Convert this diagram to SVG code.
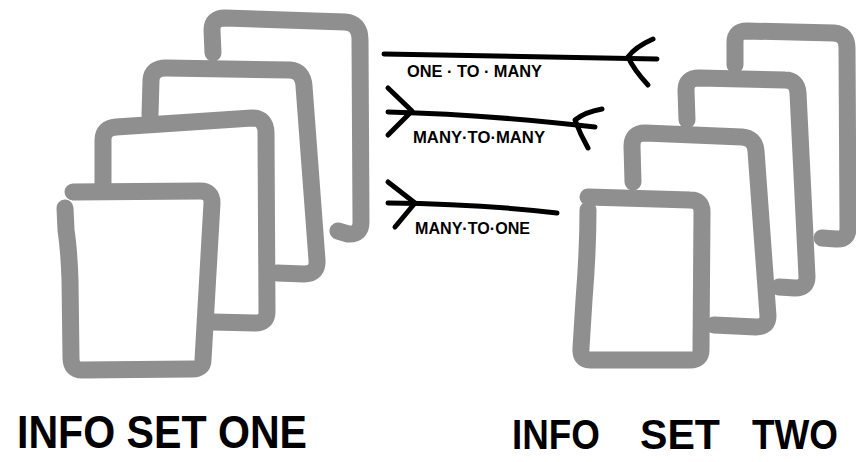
<svg xmlns="http://www.w3.org/2000/svg" width="856" height="462" viewBox="0 0 856 462">
<style>
.sheet{fill:none;stroke:#8f8f8f;stroke-width:17;stroke-linecap:round;stroke-linejoin:round}
.conn{fill:none;stroke:#000;stroke-width:5;stroke-linecap:round;stroke-linejoin:round}
.small{font-family:"Liberation Sans",Arial,sans-serif;font-weight:700;font-size:16px;fill:#000}
.big{font-family:"Liberation Sans",Arial,sans-serif;font-weight:700;font-size:46px;fill:#000}
.big2{font-family:"Liberation Sans",Arial,sans-serif;font-weight:700;font-size:43px;fill:#000}
</style>
<rect width="856" height="462" fill="#fff"/>
<g id="info-set-one">
  <path class="sheet" d="M213,53 L212,30 Q212,18 225,18 L345,22 Q360,23 360,40 L361,222 Q361,235 348,234 L338,231"/>
  <path class="sheet" d="M150,115 L151,80 Q152,68 166,68 L290,70 Q303,71 304,86 L317,260 Q318,274 304,274 L277,273"/>
  <path class="sheet" d="M103,185 L103,140 Q103,128 116,127 L252,118 Q266,118 266,133 L267,312 Q267,323 255,323 L212,322"/>
  <path class="sheet" d="M73,192 L200,191 Q212,191 212,203 L203,360 Q203,369 192,369 L82,370 Q71,370 71,358 L70,280 Q69,250 66,230 L65,208"/>
  <text class="big" x="17" y="448" textLength="290" lengthAdjust="spacingAndGlyphs">INFO SET ONE</text>
</g>
<g id="info-set-two">
  <path class="sheet" d="M735,65 L735,42 Q735,31 747,31 L834,33 Q847,34 847,48 L848,228 Q848,240 836,239 L822,238"/>
  <path class="sheet" d="M687,120 L686,90 Q686,78 699,78 L785,80 Q797,80 798,93 L807,277 Q807,288 795,288 L779,287"/>
  <path class="sheet" d="M633,182 L632,146 Q632,133 645,133 L742,137 Q755,138 756,151 L768,316 Q768,327 756,327 L714,325"/>
  <path class="sheet" d="M588,197 L690,200 Q702,200 702,212 L701,350 Q701,360 690,360 L590,360 Q580,360 581,348 L584,300 Q588,250 588,210"/>
  <text class="big2" y="449"><tspan x="512" textLength="88" lengthAdjust="spacingAndGlyphs">INFO</tspan> <tspan x="640" textLength="80" lengthAdjust="spacingAndGlyphs">SET</tspan> <tspan x="752" textLength="86" lengthAdjust="spacingAndGlyphs">TWO</tspan></text>
</g>
<g id="connectors">
  <g id="one-to-many">
    <path class="conn" d="M384,54 Q500,56 657,59"/>
    <path class="conn" d="M653,39 Q635,47 628,57 Q634,70 648,85"/>
    <text class="small" x="407" y="77" textLength="135" lengthAdjust="spacingAndGlyphs">ONE · TO · MANY</text>
  </g>
  <g id="many-to-many">
    <path class="conn" d="M388,112 Q480,114 595,127"/>
    <path class="conn" d="M388,88 L412,111 L388,135"/>
    <path class="conn" d="M602,109 Q585,112 575,120 Q580,134 588,148"/>
    <text class="small" x="413" y="143" textLength="132" lengthAdjust="spacingAndGlyphs">MANY·TO·MANY</text>
  </g>
  <g id="many-to-one">
    <path class="conn" d="M388,203 Q480,204 557,213"/>
    <path class="conn" d="M388,182 L415,203 L395,227"/>
    <text class="small" x="415" y="234" textLength="115" lengthAdjust="spacingAndGlyphs">MANY·TO·ONE</text>
  </g>
</g>
</svg>
